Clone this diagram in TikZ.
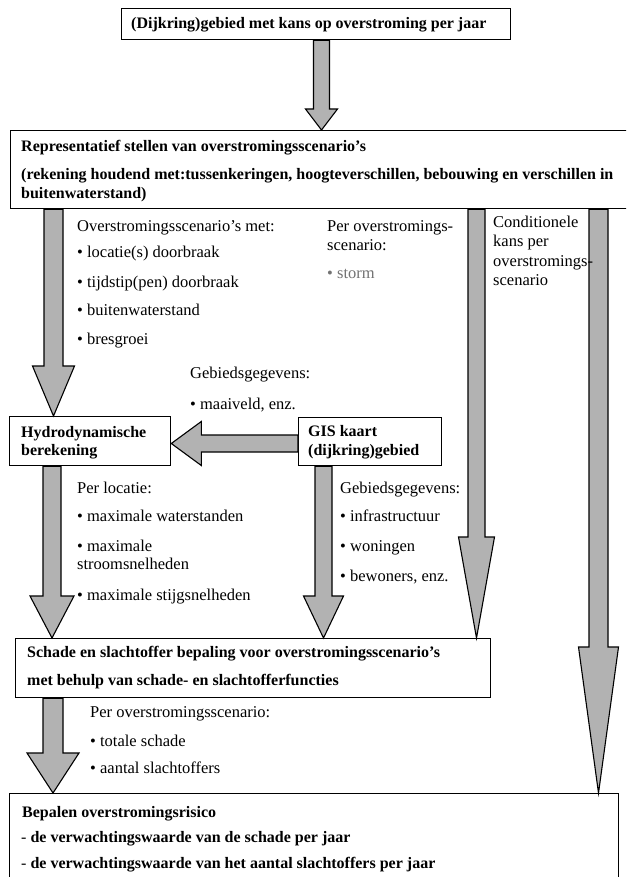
\documentclass[tikz,border=0pt]{standalone}
\usepackage{fontspec}
\setmainfont{Liberation Serif}
\usetikzlibrary{calc}
\definecolor{arrowgray}{gray}{0.70}
\definecolor{stormgray}{gray}{0.45}
\tikzset{
  box/.style={draw=black, line width=1.3pt, inner sep=0pt, anchor=north west},
  blk/.style={fill=arrowgray, draw=black, line width=1.1pt, line join=miter},
  rt/.style={anchor=base west, inner sep=0pt, font=\fontsize{16.5}{19}\selectfont},
  bt/.style={anchor=base west, inner sep=0pt, font=\fontsize{16}{19}\selectfont\bfseries},
}
% block arrow pointing down: start, apex, half shaft, half head, head length
\newcommand\blkdown[5]{\filldraw[blk] let \p1=(#1), \p2=(#2) in
  (\x1-#3,\y1) -- (\x1-#3,\y2+#5) -- (\x1-#4,\y2+#5) -- (\x1,\y2) --
  (\x1+#4,\y2+#5) -- (\x1+#3,\y2+#5) -- (\x1+#3,\y1) -- cycle;}
% block arrow pointing left
\newcommand\blkleft[5]{\filldraw[blk] let \p1=(#1), \p2=(#2) in
  (\x1,\y1+#3) -- (\x2+#5,\y1+#3) -- (\x2+#5,\y1+#4) -- (\x2,\y1) --
  (\x2+#5,\y1-#4) -- (\x2+#5,\y1-#3) -- (\x1,\y1-#3) -- cycle;}
\begin{document}
\begin{tikzpicture}[x=1pt,y=-1pt]
\path[use as bounding box] (0,0) rectangle (626,877);
\clip (0,0) rectangle (626,877);
\fill[white] (0,0) rectangle (626,877);

% columns / rows for the block arrows
\coordinate (c1) at (321.5,0);
\coordinate (cA) at (53.5,0);
\coordinate (cB) at (52,0);
\coordinate (cC) at (323.5,0);
\coordinate (cD) at (476.5,0);
\coordinate (cE) at (53,0);
\coordinate (cF) at (598.5,0);
\coordinate (rH) at (0,443.5);

% boxes
\node[box, minimum width=389pt, minimum height=31pt] (n1) at (121,8) {};
\node[box, minimum width=640pt, minimum height=78pt] (n2) at (9.5,130) {};
\node[box, minimum width=161pt, minimum height=49pt] (hyd) at (9,416) {};
\node[box, minimum width=143pt, minimum height=48pt] (gis) at (298,417) {};
\node[box, minimum width=475pt, minimum height=59pt] (sch) at (15,638) {};
\node[box, minimum width=609pt, minimum height=120pt] (bep) at (9,793) {};

% block arrows
\blkdown{n1.south -| c1}{n2.north -| c1}{8pt}{16pt}{21pt}
\blkdown{n2.south -| cA}{hyd.north -| cA}{9.5pt}{21pt}{50pt}
\blkdown{hyd.south -| cB}{sch.north -| cB}{9pt}{22pt}{42pt}
\blkdown{gis.south -| cC}{sch.north -| cC}{8.5pt}{20pt}{42pt}
\blkdown{n2.south -| cD}{sch.north -| cD}{8.5pt}{18pt}{101pt}
\blkdown{sch.south -| cE}{bep.north -| cE}{10pt}{26pt}{40pt}
\blkdown{n2.south -| cF}{bep.north -| cF}{9.5pt}{20pt}{146pt}
\blkleft{gis.west |- rH}{hyd.east |- rH}{8.5pt}{22pt}{30pt}

% texts in boxes
\node[bt] (t1) at (131,29) {(Dijkring)gebied met kans op overstroming per jaar};
\node[bt] (t2a) at (21,152) {Representatief stellen van overstromingsscenario’s};
\node[bt] (t2b) at (21,180) {(rekening houdend met:tussenkeringen, hoogteverschillen, bebouwing en verschillen in};
\node[bt] (t2c) at (21,199) {buitenwaterstand)};
\node[bt] (th1) at (21,437) {Hydrodynamische};
\node[bt] (th2) at (21,455) {berekening};
\node[bt] (tg1) at (308,436) {GIS kaart};
\node[bt] (tg2) at (308,455) {(dijkring)gebied};
\node[bt] (ts1) at (27,657) {Schade en slachtoffer bepaling voor overstromingsscenario’s};
\node[bt] (ts2) at (27,685) {met behulp van schade- en slachtofferfuncties};
\node[bt] (tb1) at (22,817) {Bepalen overstromingsrisico};
\node[bt] (tb2) at (21,842) {{\mdseries -} de verwachtingswaarde van de schade per jaar};
\node[bt] (tb3) at (21,868) {{\mdseries -} de verwachtingswaarde van het aantal slachtoffers per jaar};

% labels
\node[rt] (l1) at (77,232) {Overstromingsscenario’s met:};
\node[rt] (l2) at (77,258) {• locatie(s) doorbraak};
\node[rt] (l3) at (77,287) {• tijdstip(pen) doorbraak};
\node[rt] (l4) at (77,315) {• buitenwaterstand};
\node[rt] (l5) at (77,344) {• bresgroei};

\node[rt] (p1) at (327,232) {Per overstromings-};
\node[rt] (p2) at (327,251) {scenario:};
\node[rt, text=stormgray] (p3) at (327,278) {• storm};

\node[rt] (k1) at (493,228) {Conditionele};
\node[rt] (k2) at (493,247) {kans per};
\node[rt] (k3) at (493,266) {overstromings-};
\node[rt] (k4) at (493,285) {scenario};

\node[rt] (g1) at (190,378) {Gebiedsgegevens:};
\node[rt] (g2) at (190,409) {• maaiveld, enz.};

\node[rt] (m1) at (77,493) {Per locatie:};
\node[rt] (m2) at (77,521) {• maximale waterstanden};
\node[rt] (m3) at (77,551) {• maximale};
\node[rt] (m4) at (77,569) {stroomsnelheden};
\node[rt] (m5) at (77,600) {• maximale stijgsnelheden};

\node[rt] (q1) at (340,493) {Gebiedsgegevens:};
\node[rt] (q2) at (340,521) {• infrastructuur};
\node[rt] (q3) at (340,551) {• woningen};
\node[rt] (q4) at (340,581) {• bewoners, enz.};

\node[rt] (r1) at (90,717) {Per overstromingsscenario:};
\node[rt] (r2) at (90,746) {• totale schade};
\node[rt] (r3) at (90,773) {• aantal slachtoffers};
\end{tikzpicture}
\end{document}
